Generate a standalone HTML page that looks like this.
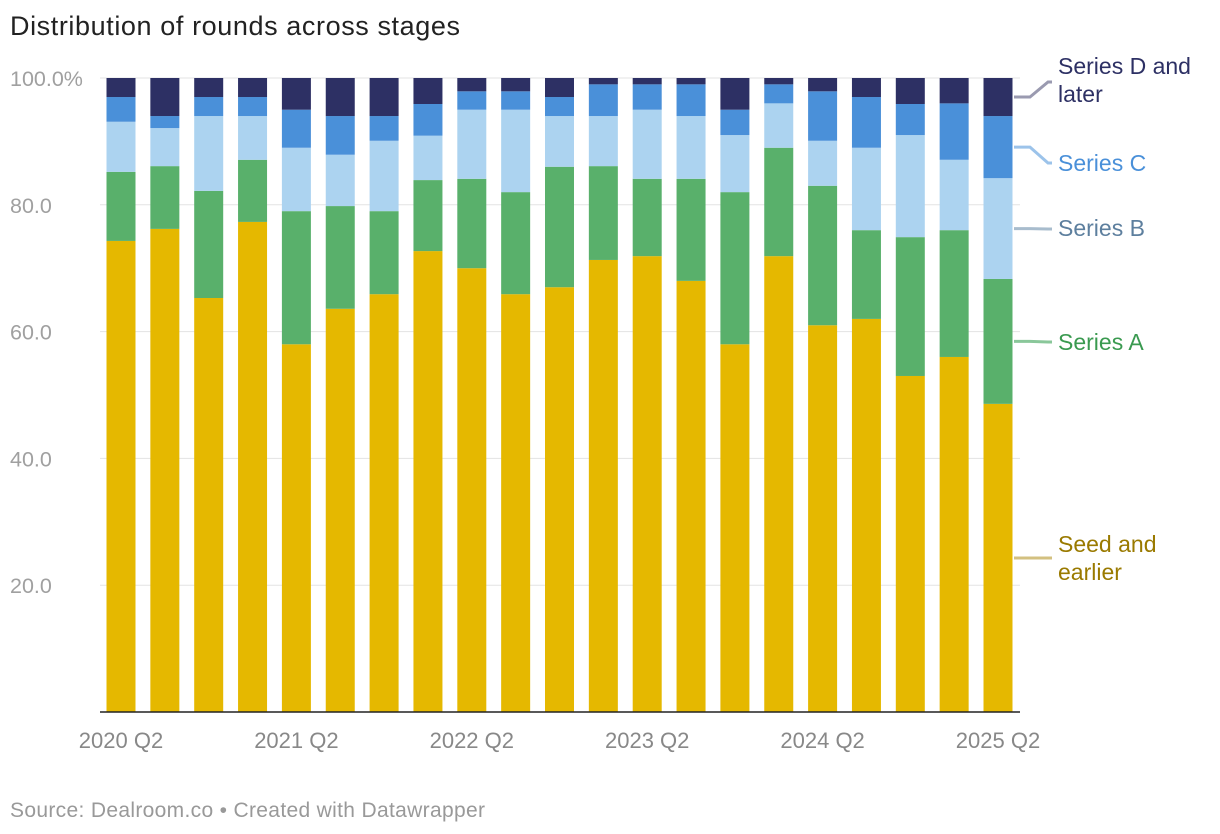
<!DOCTYPE html>
<html><head><meta charset="utf-8">
<style>
body{margin:0;background:#fff;font-family:"Liberation Sans",sans-serif;}
svg{display:block}
</style></head>
<body>
<svg id="chart" width="1220" height="834">
<text x="10" y="35" font-size="27" textLength="450" fill="#222">Distribution of rounds across stages</text>
<g id="grid"></g><g id="bars"></g><g id="labels"></g>
<text x="10" y="817" font-size="21" textLength="475" fill="#999">Source: Dealroom.co • Created with Datawrapper</text>
</svg>
<script>
const categories=["2020 Q2","2020 Q3","2020 Q4","2021 Q1","2021 Q2","2021 Q3","2021 Q4","2022 Q1","2022 Q2","2022 Q3","2022 Q4","2023 Q1","2023 Q2","2023 Q3","2023 Q4","2024 Q1","2024 Q2","2024 Q3","2024 Q4","2025 Q1","2025 Q2"];
const seed=[74.3,76.2,65.3,77.3,58,63.6,65.9,72.7,70,65.9,67,71.3,71.9,68,58,71.9,61,62,53,56,48.6];
const seriesA=[10.9,9.9,16.9,9.8,21,16.2,13.1,11.2,14.1,16.1,19,14.8,12.2,16.1,24,17.1,22,14,21.9,20,19.7];
const seriesB=[7.9,6,11.8,6.9,10,8.1,11.1,7,10.9,13,8,7.9,10.9,9.9,9,7,7.1,13,16.1,11.1,15.9];
const seriesC=[3.9,1.9,3,3,6,6.1,3.9,5,2.9,2.9,3,5,4,5,4,3,7.8,8,4.9,8.9,9.8];
const seriesD=[3,6,3,3,5,6,6,4.1,2.1,2.1,3,1,1,1,5,1,2.1,3,4.1,4,6];
const yTicks=[20,40,60,80,100];
const yTickLabels=["20.0","40.0","60.0","80.0","100.0%"];
const xTickLabels=["2020 Q2","2021 Q2","2022 Q2","2023 Q2","2024 Q2","2025 Q2"];
const NS="http://www.w3.org/2000/svg";
const L=100,R=1020,T=78,B=712;
const y=v=>B-(B-T)*v/100;
const step=(998-121)/(categories.length-1);
const x=i=>121+i*step;
const bw=29;
function mk(tag,attrs,parent){const e=document.createElementNS(NS,tag);for(const k in attrs)e.setAttribute(k,attrs[k]);parent.appendChild(e);return e;}
const grid=document.getElementById('grid');
yTicks.forEach((t,i)=>{
  const ln=mk('line',{x1:L,x2:R,y1:y(t),y2:y(t),stroke:'#e3e3e3','stroke-width':1},grid);
  
  
  const tx=mk('text',{x:10,y:y(t)+8,'font-size':21.5,fill:'#a0a0a0'},grid);
  tx.textContent=yTickLabels[i];
  
  
});
const series=[seed,seriesA,seriesB,seriesC,seriesD];
const colors=["#e5b800","#59b06b","#acd3f0","#4a90d9","#2d3064"];
const names=["seed","series-a","series-b","series-c","series-d"];
const bars=document.getElementById('bars');
categories.forEach((c,i)=>{
  let cum=0;
  series.forEach((s,k)=>{
    const v=s[i];
    const r=mk('rect',{x:x(i)-bw/2,y:y(cum+v),width:bw,height:y(cum)-y(cum+v),fill:colors[k]},bars);
    
    
    cum+=v;
  });
});
const ax=mk('line',{x1:L,x2:R,y1:B,y2:B,stroke:'#222','stroke-width':1.5},bars);


xTickLabels.forEach(lbl=>{
  const i=categories.indexOf(lbl);
  const t=mk('text',{x:x(i),y:748,'font-size':22,fill:'#888','text-anchor':'middle'},bars);
  t.textContent=lbl;
  
  
});
const labels=document.getElementById('labels');
const legend=[
  {k:4,lines:["Series D and","later"],ty:74,color:"#2d3064",lc:"#9a9ab0",ly:82},
  {k:3,lines:["Series C"],ty:171,color:"#4a90d9",lc:"#9cc3ea",ly:163},
  {k:2,lines:["Series B"],ty:236,color:"#5d7f9e",lc:"#a8bccd",ly:229},
  {k:1,lines:["Series A"],ty:350,color:"#3a9a50",lc:"#8ac79a",ly:342},
  {k:0,lines:["Seed and","earlier"],ty:552,color:"#9a7a00",lc:"#d3c080",ly:558}
];
const n=categories.length-1;
legend.forEach(g=>{
  let cum=0;for(let k=0;k<g.k;k++)cum+=series[k][n];
  const mid=y(cum+series[g.k][n]/2);
  const pl=mk('polyline',{points:`1014,${mid} 1030,${mid} 1048,${g.ly} 1052,${g.ly}`,fill:'none',stroke:g.lc,'stroke-width':3},labels);
  
  
  g.lines.forEach((t,j)=>{
    const tx=mk('text',{x:1058,y:g.ty+j*28,'font-size':23,fill:g.color},labels);
    tx.textContent=t;
    
    
  });
});
</script>
</body></html>
